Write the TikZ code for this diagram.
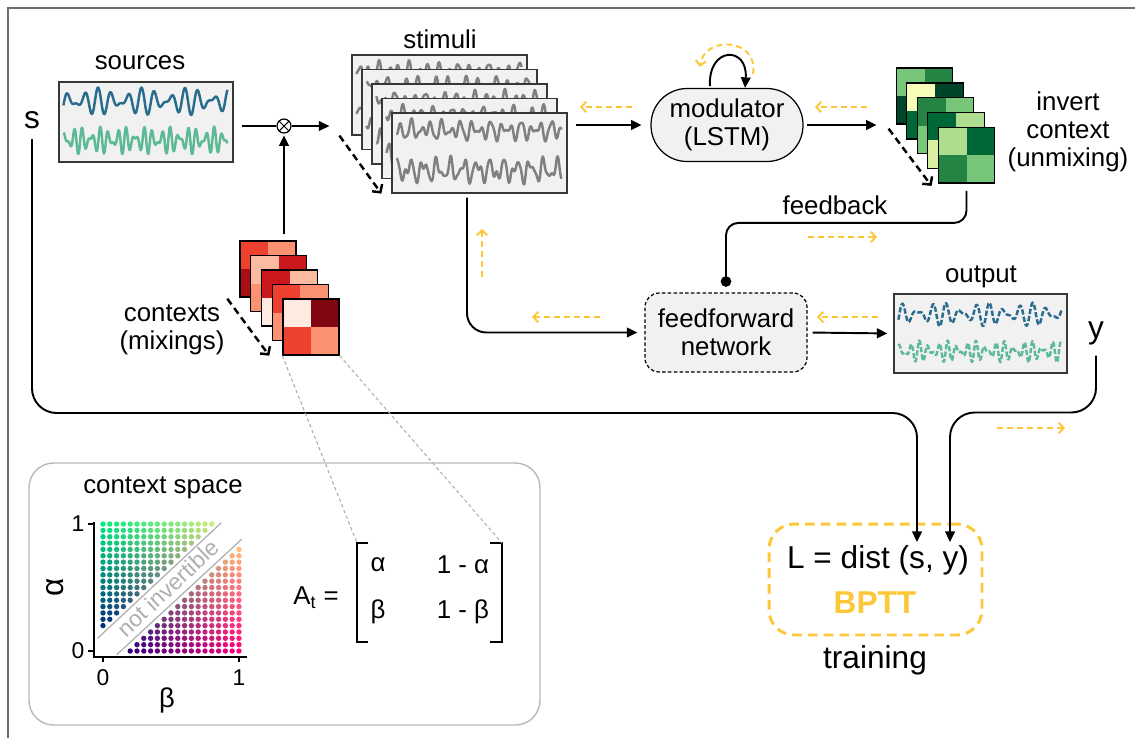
\documentclass[tikz,border=0pt]{standalone}
\usepackage{fontspec}
\setmainfont{Liberation Sans}
\usetikzlibrary{arrows.meta}

\definecolor{boxgray}{RGB}{241,241,241}
\definecolor{edgegray}{RGB}{55,55,55}
\definecolor{framegray}{RGB}{110,110,110}
\definecolor{wavegray}{RGB}{128,128,128}
\definecolor{srcblue}{RGB}{42,108,140}
\definecolor{srcgreen}{RGB}{94,186,150}
\definecolor{gradyellow}{RGB}{252,199,56}
\definecolor{panelgray}{RGB}{185,185,185}
\definecolor{diaggray}{RGB}{175,175,175}
% reds of the mixing matrices
\definecolor{rA}{RGB}{254,234,224}
\definecolor{rB}{RGB}{252,187,161}
\definecolor{rC}{RGB}{252,146,114}
\definecolor{rD}{RGB}{251,106,74}
\definecolor{rE}{RGB}{239,65,48}
\definecolor{rF}{RGB}{203,24,29}
\definecolor{rG}{RGB}{165,15,21}
\definecolor{rH}{RGB}{128,6,18}
% greens of the unmixing matrices
\definecolor{gA}{RGB}{247,252,185}
\definecolor{gB}{RGB}{217,240,163}
\definecolor{gC}{RGB}{173,221,142}
\definecolor{gD}{RGB}{120,198,121}
\definecolor{gE}{RGB}{65,171,93}
\definecolor{gF}{RGB}{35,132,67}
\definecolor{gG}{RGB}{0,104,55}
\definecolor{gH}{RGB}{0,69,41}

\begin{document}
\begin{tikzpicture}[x=0.02cm, y=-0.02cm,
    every node/.style={inner sep=0pt, font=\fontsize{14.7}{16}\selectfont},
    big/.style={font=\fontsize{18}{20}\selectfont},
    small/.style={font=\fontsize{13}{15}\selectfont},
    wire/.style={line width=1.1pt},
    conn/.style={wire, -{Triangle[length=6pt, width=5.5pt]}},
    grad/.style={gradyellow, line width=1.1pt, dash pattern=on 3.4pt off 2.3pt, -{Straight Barb[length=2.8pt, width=6pt]}},
    stackarrow/.style={line width=1.4pt, dash pattern=on 4pt off 2.6pt, -{Straight Barb[length=3.2pt, width=7pt]}},
    panel/.style={draw=edgegray, line width=.7pt, fill=boxgray},
    sigbox/.style={panel, minimum width=3.48cm, minimum height=1.6cm},
    stimcard/.style={panel, minimum width=3.5cm, minimum height=1.6cm},
    quad/.style n args={4}{draw=black, line width=.8pt, minimum width=1.13cm, minimum height=1.12cm,
      path picture={
        \fill[#1] (path picture bounding box.north west) rectangle (path picture bounding box.center);
        \fill[#2] (path picture bounding box.north east) rectangle (path picture bounding box.center);
        \fill[#3] (path picture bounding box.south west) rectangle (path picture bounding box.center);
        \fill[#4] (path picture bounding box.south east) rectangle (path picture bounding box.center);
      }},
    wave/.style={line width=1.4pt, line join=round},
    outwave/.style={wave, dash pattern=on 3pt off 1.2pt},
    zoomline/.style={diaggray, line width=.6pt, dash pattern=on 2pt off 1.5pt},
  ]
  \useasboundingbox (0,0) rectangle (1135,738);
  \draw[framegray, line width=.6pt] (1135,8) -- (8,8) -- (8,738);

  % sources
  \node[sigbox] (src) at (146,122) {};
  \node (srclabel) at (140,63) {sources};
  \begin{scope}[shift={(src.north west)}]
    \draw[wave, srcblue] plot[domain=5:169, samples=220, smooth] (\x, {20+8*sin(25*\x)+6*sin(33*\x+40)});
    \draw[wave, srcgreen] plot[domain=5:169, samples=260, smooth] (\x, {59+8*sin(41*\x)+6*sin(57*\x+30)});
  \end{scope}
  \node[big] (slabel) at (32,120) {s};
  \node[draw, circle, line width=.7pt, minimum size=.28cm,
    path picture={\draw[line width=.6pt] (path picture bounding box.north west) -- (path picture bounding box.south east)
      (path picture bounding box.north east) -- (path picture bounding box.south west);}] (mult) at (284,126) {};

  % stimuli
  \node (stimlabel) at (440,39) {stimuli};
  \foreach \i in {0,...,4}{
    \node[stimcard] (stim\i) at (439.5+10*\i, 95+14.5*\i) {};
    \begin{scope}[shift={(stim\i.north west)}]
      \draw[wave, wavegray] plot[domain=5:170, samples=240, smooth] (\x, {18+6*sin(36*\x+70*\i)+4*sin(23*\x+40*\i)+2.5*sin(61*\x+25*\i)});
      \draw[wave, wavegray] plot[domain=5:170, samples=240, smooth] (\x, {58+8*sin(27*\x+30*\i)+5*sin(47*\x+90*\i)+2*sin(71*\x)});
    \end{scope}
  }

  % modulator and readout
  \node[panel, draw=black, rounded corners=.72cm, minimum width=3.04cm, minimum height=1.46cm, align=center] (mod) at (727,125) {modulator\\(LSTM)};
  \node[panel, draw=black, dash pattern=on 2pt off 1.3pt, rounded corners=.28cm, minimum width=3.24cm, minimum height=1.58cm, align=center] (ff) at (726,332.5) {feedforward\\network};

  % unmixing matrices
  \foreach \i/\a/\b/\c/\d in {0/gD/gF/gH/gF, 1/gA/gH/gG/gE, 2/gF/gD/gD/gC, 3/gG/gC/gB/gD, 4/gC/gG/gF/gD}{
    \node[quad={\a}{\b}{\c}{\d}] (inv\i) at (924.5+10.5*\i, 96+14.8*\i) {};
  }
  \node[align=center] (invlabel) at (1068,132) {invert\\context\\(unmixing)};

  % mixing matrices
  \foreach \i/\a/\b/\c/\d in {0/rE/rC/rG/rF, 1/rB/rF/rC/rE, 2/rF/rB/rA/rC, 3/rE/rC/rC/rB, 4/rA/rH/rE/rC}{
    \node[quad={\a}{\b}{\c}{\d}, minimum width=1.12cm] (ctx\i) at (268+10.75*\i, 269+14.5*\i) {};
  }
  \node[align=center] (ctxlabel) at (172,330) {contexts\\(mixings)};

  % output
  \node[sigbox, minimum width=3.46cm, minimum height=1.58cm] (out) at (980.5,333.5) {};
  \node (outlabel) at (981,277) {output};
  \begin{scope}[shift={(out.north west)}]
    \draw[outwave, srcblue] plot[domain=5:168, samples=200, smooth] (\x, {21+7*sin(25*\x+20)+5*sin(33*\x)});
    \draw[outwave, srcgreen] plot[domain=5:168, samples=220, smooth] (\x, {58+6*sin(38*\x)+5*sin(51*\x+30)});
  \end{scope}
  \node[big] (ylabel) at (1096,333) {y};

  % loss
  \node[draw=gradyellow, line width=1.7pt, dash pattern=on 5.5pt off 3.5pt, rounded corners=.5cm, minimum width=4.26cm, minimum height=2.22cm] (loss) at (875.5,579.5) {};
  \node[big] (lossf) at (878,560) {L = dist (s, y)};
  \node[big, text=gradyellow, font=\fontsize{18}{20}\selectfont\bfseries] (bptt) at (875,603) {BPTT};
  \node[big] (train) at (875,660) {training};
  \coordinate (sin) at (917,542);
  \coordinate (yin) at (950,542);

  % forward connections
  \draw[wire] (src.east |- mult) ++(8,0) -- (mult.west);
  \draw[conn, shorten >=12.5pt] (mult.east) -- (stim0.west |- mult);
  \draw[conn, shorten <=3.4pt, shorten >=1pt] (ctx0.north -| mult) -- (mult.south);
  \draw[conn, shorten <=4.5pt, shorten >=5pt] (stim4.east |- mod) -- (mod.west);
  \draw[conn, shorten <=1.7pt, shorten >=10.8pt] (mod.east) -- (inv0.west |- mod);
  \draw[conn, shorten <=1pt] ([shift={(-17,0)}]mod.north) .. controls +(-2,-42) and +(3,-42) .. ([shift={(18,0)}]mod.north);
  \draw[wire, rounded corners=7pt, -{Circle[length=6pt]}, shorten <=4pt, shorten >=3.2pt] (inv4.south) -- ++(0,39) -| (ff.north);
  \node (fblabel) at (835,205) {feedback};
  \draw[conn, rounded corners=11pt, shorten >=4pt] ([shift={(-12.5,4)}]stim4.south) |- (ff.west);
  \draw[conn, shorten <=2.8pt, shorten >=3.4pt] (ff.east) -- (out.west);
  \draw[conn, rounded corners=14pt, shorten <=5.7pt] (slabel.south) -- ++(0,284) -| (sin);
  \draw[conn, rounded corners=14pt, shorten <=6pt] (ylabel.south) -- ++(0,67.5) -| (yin);

  % order of the stacks
  \draw[stackarrow] ([shift={(-12,0)}]stim0.south west) -- ([shift={(-10,0)}]stim4.south west);
  \draw[stackarrow] ([shift={(-7,4)}]inv0.south west) -- ([shift={(-6,2)}]inv4.south west);
  \draw[stackarrow] ([shift={(-12,1)}]ctx0.south west) -- ([shift={(-13,0)}]ctx4.south west);

  % gradients
  \foreach \ax/\ay/\bx/\by in {632/107/580/107, 867/107/815/107, 808/237/877/237, 482/277/482/229,
                              600/317/532/317, 878/317/817/317, 997/428/1065/428}{
    \draw[grad] (\ax,\ay) -- (\bx,\by);
  }
  \draw[grad] ([shift={(26,-14)}]mod.north) .. controls +(6,-36) and +(4,-32) .. ([shift={(-27,-21)}]mod.north);

  % matrix
  \node (At) at (316,598) {A\textsubscript{t} =};
  \node (m11) at (378,565) {α};
  \node (m12) at (463,565) {1 - α};
  \node (m21) at (378,612) {β};
  \node (m22) at (463,612) {1 - β};
  \coordinate (mtl) at (357,543);
  \coordinate (mtr) at (502,543);
  \draw[line width=.9pt] (368,543) -- (mtl) -- (357,642) -- (368,642);
  \draw[line width=.9pt] (490,543) -- (mtr) -- (502,642) -- (490,642);
  \draw[zoomline] (ctx4.south west) -- (mtl);
  \draw[zoomline] (ctx4.south east) -- (mtr);

  % context space
  \draw[panelgray, line width=.8pt, rounded corners=14pt] (29,463) rectangle (540,725);
  \node (cslabel) at (163,488) {context space};
  \begin{scope}[shift={(103,651)}, x=2.72cm, y=2.54cm]
    \foreach \a in {0,...,20}{
      \foreach \b in {0,...,20}{
        \pgfmathtruncatemacro{\gap}{abs(\a-\b)}
        \ifnum\gap>3
          \pgfmathtruncatemacro{\rr}{255*\b/20}
          \pgfmathtruncatemacro{\gg}{235*\a/20}
          \definecolor{dotc}{RGB}{\rr,\gg,125}
          \fill[dotc] (\b/20,\a/20) circle[radius=0.054cm];
        \fi
      }
    }
    \draw[diaggray, line width=.7pt] (-0.04,0.10) -- (0.87,1.01);
    \draw[diaggray, line width=.7pt] (0.10,-0.03) -- (1.02,0.88);
    \node[small, text=diaggray, rotate=43] (noinv) at (0.478,0.496) {not invertible};
    \draw[line width=1.2pt] (-0.066,1.016) -- (-0.066,-0.047) -- (1.06,-0.047);
    \draw[line width=1.2pt] (-0.066,1) -- (-0.11,1) (-0.066,0) -- (-0.11,0)
      (0,-0.047) -- (0,-0.087) (1,-0.047) -- (1,-0.087);
    \node[small] (ytick1) at (-0.184,1) {1};
    \node[small] (ytick0) at (-0.184,0) {0};
    \node[small] (xtick0) at (0,-0.213) {0};
    \node[small] (xtick1) at (1,-0.213) {1};
    \node[big, rotate=90] (alabel) at (-0.353,0.504) {α};
    \node[font=\fontsize{15.5}{17}\selectfont] (blabel) at (0.47,-0.386) {β};
  \end{scope}
\end{tikzpicture}
\end{document}
